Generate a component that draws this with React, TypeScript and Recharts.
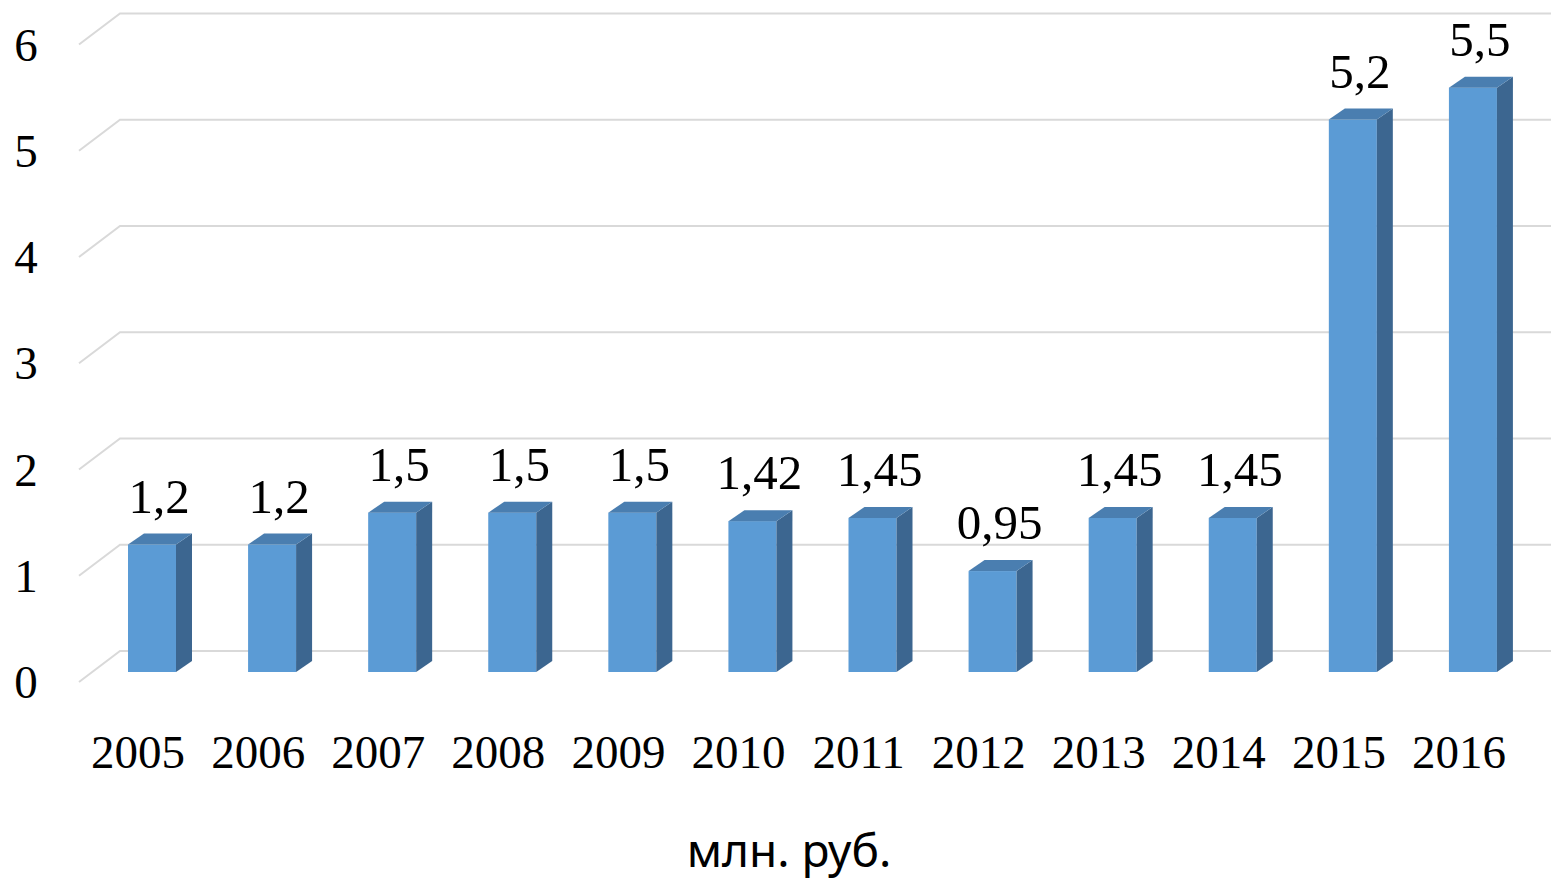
import { BarChart, Bar, XAxis, YAxis, CartesianGrid, LabelList } from "recharts";

const years = ["2005", "2006", "2007", "2008", "2009", "2010", "2011", "2012", "2013", "2014", "2015", "2016"];
const amounts = [1.2, 1.2, 1.5, 1.5, 1.5, 1.42, 1.45, 0.95, 1.45, 1.45, 5.2, 5.5];
const yTicks = [0, 1, 2, 3, 4, 5, 6];
const unitLabel = "млн. руб.";

const data = years.map((year, i) => ({ year, value: amounts[i] }));

const DX = 16;
const DY = 11;
const serif = '"Liberation Serif", "Times New Roman", serif';

// 3D столбик: фронт + верх + бок
function Box3D(props: any) {
  const { x, y, width, height } = props;
  if (height == null || width == null) return null;
  return (
    <g>
      <rect x={x} y={y} width={width} height={height} fill="#5B9BD5" />
      <polygon
        points={`${x + width},${y} ${x + width + DX},${y - DY} ${x + width + DX},${y + height - DY} ${x + width},${y + height}`}
        fill="#3C6690"
      />
      <polygon
        points={`${x},${y} ${x + DX},${y - DY} ${x + width + DX},${y - DY} ${x + width},${y}`}
        fill="#4A7EB0"
      />
    </g>
  );
}

function GridLine(props: any) {
  const { x1, y1 } = props;
  return (
    <path
      key={props.key}
      d={`M${x1 - 13} ${y1 + 10} L${x1 + 28} ${y1 - 21} L1551 ${y1 - 21}`}
      stroke="#d9d9d9"
      strokeWidth={2}
      fill="none"
    />
  );
}

function YTick(props: any) {
  const { y, payload } = props;
  return (
    <text x={26} y={y + 26} textAnchor="middle" fontFamily={serif} fontSize={47} fill="#000">
      {payload.value}
    </text>
  );
}

function XTick(props: any) {
  const { x, payload } = props;
  return (
    <text x={x - 14} y={768} textAnchor="middle" fontFamily={serif} fontSize={47} fill="#000">
      {payload.value}
    </text>
  );
}

function ValueLabel(props: any) {
  const { x, y, width, value } = props;
  return (
    <text x={x + width / 2 + 7} y={y - 32} textAnchor="middle" fontFamily={serif} fontSize={49} fill="#000">
      {String(value).replace(".", ",")}
    </text>
  );
}

export default function App() {
  return (
    <div style={{ position: "absolute", left: 0, top: 0, width: 1551, height: 878, background: "#fff" }}>
      <BarChart
        width={1551}
        height={878}
        data={data}
        margin={{ top: 34.5, right: 18, bottom: 0, left: 0 }}
        barSize={48}
      >
        <CartesianGrid vertical={false} horizontal={GridLine} />
        <YAxis
          width={92}
          domain={[0, 6]}
          ticks={yTicks}
          axisLine={false}
          tickLine={false}
          tick={YTick}
          interval={0}
        />
        <XAxis dataKey="year" height={206} axisLine={false} tickLine={false} tick={XTick} interval={0} />
        <Bar dataKey="value" shape={Box3D} isAnimationActive={false}>
          <LabelList dataKey="value" content={ValueLabel} />
        </Bar>
      </BarChart>
      <div
        style={{
          position: "absolute",
          left: 0,
          width: 1578,
          top: 826,
          textAlign: "center",
          fontFamily: '"Noto Sans", sans-serif',
          fontSize: 46,
          lineHeight: "46px",
          color: "#000",
        }}
      >
        {unitLabel}
      </div>
    </div>
  );
}
